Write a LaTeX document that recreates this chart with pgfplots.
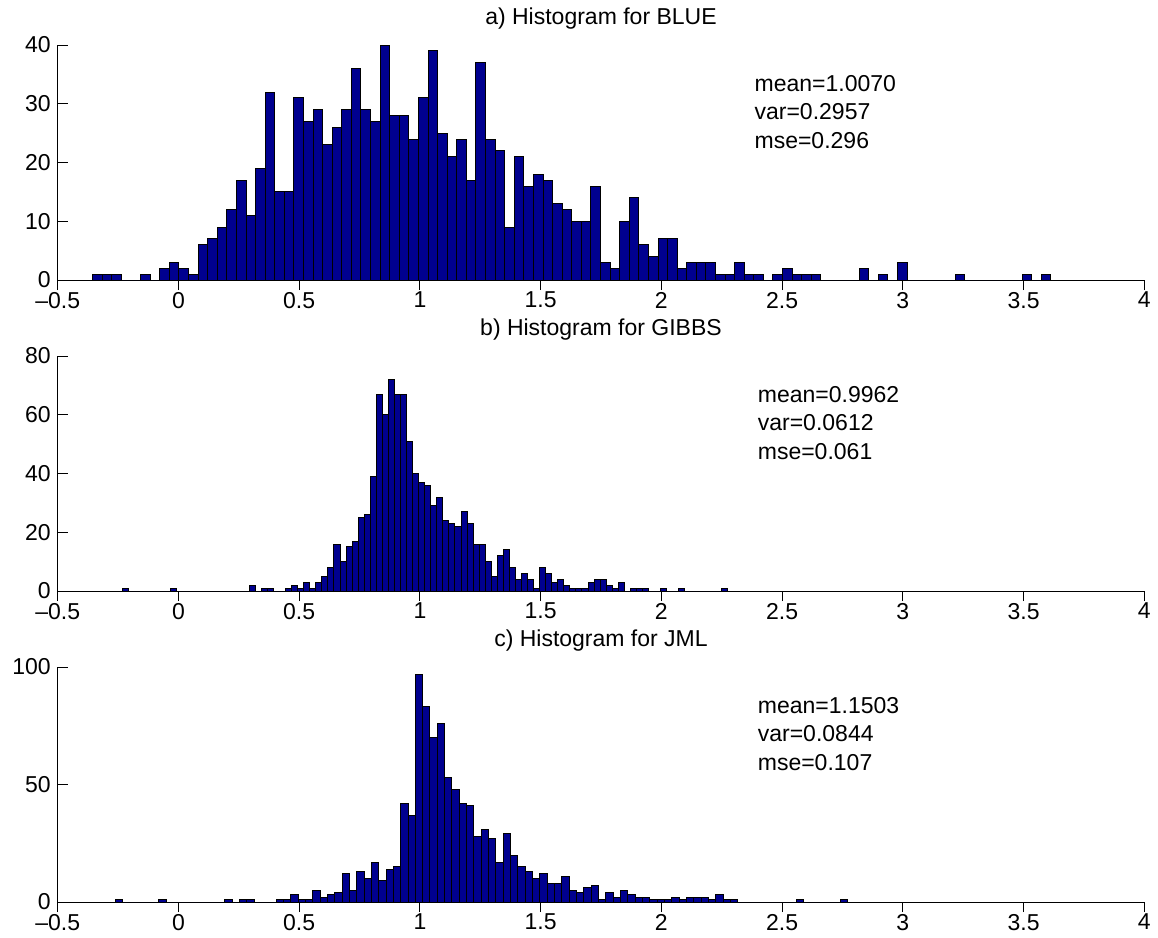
\documentclass[border=0pt]{standalone}
\usepackage{fontspec}
\setmainfont{Liberation Sans}
\usepackage{pgfplots}
\pgfplotsset{compat=1.18}
\definecolor{histblue}{RGB}{0,0,143}
\newcommand{\chartfont}{\fontsize{11.5}{14}\selectfont}
\pgfplotsset{
 histaxis/.style={
  scale only axis, width=543.3pt, height=117.5pt,
  xmin=-0.5, xmax=4, ymin=0,
  axis x line*=bottom, axis y line*=left,
  axis line style={-, line width=0.5pt, black},
  tick align=inside, major tick length=5pt,
  tick style={line width=0.5pt, black},
  xtick={-0.5,0,0.5,1,1.5,2,2.5,3,3.5,4},
  xticklabels={–0.5,0,0.5,1,1.5,2,2.5,3,3.5,4},
  ticklabel style={font=\chartfont},
  xticklabel style={yshift=2.5pt},
  title style={at={(0.5,1)}, anchor=base, yshift=4.5pt, font=\chartfont},
  ybar, bar width=#1,
  clip=false,
 },
 hbar/.style={fill=histblue, draw=black, line width=0.5pt},
}
\begin{document}
\begin{tikzpicture}
\useasboundingbox (-28.85pt,-329pt) rectangle (550.15pt,140pt);
% ---------------- a) BLUE
\begin{axis}[histaxis=0.03968, at={(0pt,0pt)}, anchor=south west,
  ymax=40, ytick={0,10,20,30,40}, yticklabels={0,10,20,30,40},
  title={a) Histogram for BLUE}]
\addplot[hbar] table[x expr=-0.3352+\coordindex*0.03968, y index=0, header=false, row sep=\\] {
1\\1\\1\\0\\0\\1\\0\\2\\3\\2\\
1\\6\\7\\9\\12\\17\\11\\19\\32\\15\\
15\\31\\27\\29\\23\\26\\29\\36\\29\\27\\
40\\28\\28\\24\\31\\39\\25\\21\\24\\17\\
37\\24\\22\\9\\21\\16\\18\\17\\13\\12\\
10\\10\\16\\3\\2\\10\\14\\6\\4\\7\\
7\\2\\3\\3\\3\\1\\1\\3\\1\\1\\
0\\1\\2\\1\\1\\1\\0\\0\\0\\0\\
2\\0\\1\\0\\3\\0\\0\\0\\0\\0\\
1\\0\\0\\0\\0\\0\\0\\1\\0\\1\\
};
\node[anchor=base west, font=\chartfont, inner sep=0pt] at (rel axis cs:0.641,0.801) {mean=1.0070};
\node[anchor=base west, font=\chartfont, inner sep=0pt] at (rel axis cs:0.641,0.681) {var=0.2957};
\node[anchor=base west, font=\chartfont, inner sep=0pt] at (rel axis cs:0.641,0.560) {mse=0.296};
\end{axis}
% ---------------- b) GIBBS
\begin{axis}[histaxis=0.02505, at={(0pt,-155.5pt)}, anchor=south west,
  ymax=80, ytick={0,20,40,60,80}, yticklabels={0,20,40,60,80},
  title={b) Histogram for GIBBS}]
\addplot[hbar] table[x expr=-0.2200+\coordindex*0.02505, y index=0, header=false, row sep=\\] {
1\\0\\0\\0\\0\\0\\0\\0\\1\\0\\
0\\0\\0\\0\\0\\0\\0\\0\\0\\0\\
0\\2\\0\\1\\1\\0\\0\\1\\2\\1\\
3\\1\\3\\5\\8\\16\\10\\15\\17\\25\\
26\\39\\67\\60\\72\\67\\67\\51\\40\\37\\
36\\29\\32\\24\\23\\22\\27\\23\\16\\16\\
10\\5\\12\\14\\8\\4\\6\\4\\1\\8\\
6\\3\\4\\2\\1\\1\\1\\3\\4\\4\\
2\\1\\3\\0\\1\\1\\1\\0\\0\\1\\
0\\0\\1\\0\\0\\0\\0\\0\\0\\1\\
};
\node[anchor=base west, font=\chartfont, inner sep=0pt] at (rel axis cs:0.644,0.801) {mean=0.9962};
\node[anchor=base west, font=\chartfont, inner sep=0pt] at (rel axis cs:0.644,0.681) {var=0.0612};
\node[anchor=base west, font=\chartfont, inner sep=0pt] at (rel axis cs:0.644,0.560) {mse=0.061};
\end{axis}
% ---------------- c) JML
\begin{axis}[histaxis=0.030337, at={(0pt,-311pt)}, anchor=south west,
  ymax=100, ytick={0,50,100}, yticklabels={0,50,100},
  title={c) Histogram for JML}]
\addplot[hbar] table[x expr=-0.2475+\coordindex*0.030337, y index=0, header=false, row sep=\\] {
1\\0\\0\\0\\0\\0\\1\\0\\0\\0\\
0\\0\\0\\0\\0\\1\\0\\1\\1\\0\\
0\\0\\1\\1\\3\\1\\1\\5\\2\\3\\
4\\12\\5\\13\\10\\17\\9\\14\\15\\42\\
37\\97\\83\\70\\76\\53\\48\\42\\41\\28\\
31\\27\\17\\29\\20\\15\\13\\10\\12\\8\\
8\\11\\5\\4\\6\\7\\1\\4\\2\\5\\
3\\2\\2\\1\\1\\1\\2\\1\\2\\2\\
2\\1\\3\\1\\1\\0\\0\\0\\0\\0\\
0\\0\\0\\1\\0\\0\\0\\0\\0\\1\\
};
\node[anchor=base west, font=\chartfont, inner sep=0pt] at (rel axis cs:0.644,0.801) {mean=1.1503};
\node[anchor=base west, font=\chartfont, inner sep=0pt] at (rel axis cs:0.644,0.681) {var=0.0844};
\node[anchor=base west, font=\chartfont, inner sep=0pt] at (rel axis cs:0.644,0.560) {mse=0.107};
\end{axis}
\end{tikzpicture}
\end{document}
